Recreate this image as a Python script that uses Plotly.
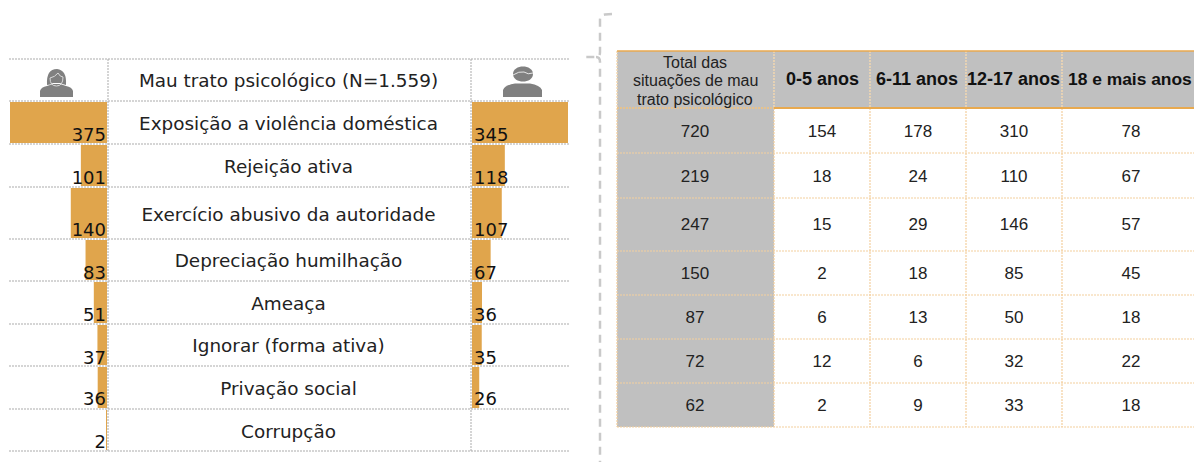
import plotly.graph_objects as go

# ---------- data ----------
categories = ["Exposição a violência doméstica", "Rejeição ativa", "Exercício abusivo da autoridade",
              "Depreciação humilhação", "Ameaça", "Ignorar (forma ativa)", "Privação social", "Corrupção"]
title_text = "Mau trato psicológico (N=1.559)"
female = [375, 101, 140, 83, 51, 37, 36, 2]
male = [345, 118, 107, 67, 36, 35, 26, None]
header_lines = ["Total das", "situações de mau", "trato psicológico"]
table_headers = ["0-5 anos", "6-11 anos", "12-17 anos", "18 e mais anos"]
total = [720, 219, 247, 150, 87, 72, 62]
age_0_5 = [154, 18, 15, 2, 6, 12, 2]
age_6_11 = [178, 24, 29, 18, 13, 6, 9]
age_12_17 = [310, 110, 146, 85, 50, 32, 33]
age_18 = [78, 67, 57, 45, 18, 22, 18]

# ---------- layout geometry (pixels) ----------
W, H = 1194, 462
row_edges = [59, 101, 144, 187, 239, 281, 324, 366, 409, 451]
label_y = [82, 125, 168, 216, 262, 305, 347, 390, 433]
value_y = [136, 179, 231, 274, 316, 359, 400, 443]
t_cols = [617, 774, 870, 966, 1062, 1194]
t_rows = [51, 108, 153, 198, 251, 295, 339, 383, 427]
t_text_y = [133, 178, 226, 275, 319, 363, 407]
BAR = "#E0A54C"
GREY = "#ABABAB"
ICON = "#808080"
CELL = "#C0C0C0"
ORANGE = "#E8A94F"
LIGHT = "#F3CF9E"
F1 = "DejaVu Sans"
F2 = "Liberation Sans"
PX = "x3"   # the full-figure pixel axis, drawn above the bars

fig = go.Figure()

bar_mid = [(row_edges[i + 1] + row_edges[i + 2]) / 2 for i in range(8)]
bar_h = [row_edges[i + 2] - row_edges[i + 1] - 2 for i in range(8)]
fig.add_trace(go.Bar(x=female, y=bar_mid, width=bar_h, orientation="h", xaxis="x", yaxis="y",
                     marker=dict(color=BAR, line_width=0), showlegend=False, hoverinfo="skip"))
fig.add_trace(go.Bar(x=male, y=bar_mid, width=bar_h, orientation="h", xaxis="x2", yaxis="y",
                     marker=dict(color=BAR, line_width=0), showlegend=False, hoverinfo="skip"))

fig.add_trace(go.Scatter(x=[288.5] * 9, y=label_y, text=[title_text] + categories, mode="text", xaxis=PX, yaxis="y",
                         textposition="middle center", textfont=dict(family=F1, size=18.4, color="#222222"),
                         showlegend=False, hoverinfo="skip", cliponaxis=False))
fig.add_trace(go.Scatter(x=[106] * 8, y=value_y, text=[str(v) for v in female], mode="text", xaxis=PX, yaxis="y",
                         textposition="middle left", textfont=dict(family=F1, size=18, color="#111111"),
                         showlegend=False, hoverinfo="skip", cliponaxis=False))
fig.add_trace(go.Scatter(x=[474] * 7, y=value_y[:7], text=[str(v) for v in male[:7]], mode="text", xaxis=PX, yaxis="y",
                         textposition="middle right", textfont=dict(family=F1, size=18, color="#111111"),
                         showlegend=False, hoverinfo="skip", cliponaxis=False))

centers = [(t_cols[i] + t_cols[i + 1]) / 2 for i in range(5)]
centers[0] = 695
centers[4] = 1131
for cx, col in zip(centers, [total, age_0_5, age_6_11, age_12_17, age_18]):
    fig.add_trace(go.Scatter(x=[cx] * 7, y=t_text_y, text=[str(v) for v in col], mode="text", xaxis=PX, yaxis="y",
                             textposition="middle center", textfont=dict(family=F2, size=17, color="#222222"),
                             showlegend=False, hoverinfo="skip", cliponaxis=False))

annos = []
for y, t in zip([62, 80.5, 99], header_lines):
    annos.append(dict(x=695, y=y, xref=PX, yref="y", text=t, showarrow=False,
                      font=dict(family=F2, size=16, color="#222222")))
for cx, h, s in zip([822, 917, 1013, 1130], table_headers, [18, 18, 18, 17.4]):
    annos.append(dict(x=cx, y=79, xref=PX, yref="y", text="<b>%s</b>" % h, showarrow=False,
                      font=dict(family=F2, size=s, color="#111111")))

shapes = []
DOT = "2px,1px"
def rect(x0, y0, x1, y1, fill, layer="below"):
    shapes.append(dict(type="rect", xref=PX, yref="y", x0=x0, y0=y0, x1=x1, y1=y1,
                       fillcolor=fill, line_width=0, layer=layer))
def line(x0, y0, x1, y1, color, w=1, dash=DOT, layer="below"):
    shapes.append(dict(type="line", xref=PX, yref="y", x0=x0, y0=y0, x1=x1, y1=y1,
                       line=dict(color=color, width=w, dash=dash), layer=layer))
def path(d, fill=None, color=None, w=0):
    s = dict(type="path", xref=PX, yref="y", path=d, layer="above",
             line=dict(width=w, color=color or "rgba(0,0,0,0)"))
    if fill:
        s["fillcolor"] = fill
    shapes.append(s)

# left grid
for y in row_edges:
    line(9, y, 569, y, GREY)
for x in (108, 471):
    line(x, row_edges[0], x, row_edges[-1], GREY)

# table
rect(t_cols[0], t_rows[0], t_cols[-1], t_rows[1], CELL)
rect(t_cols[0], t_rows[1], t_cols[1], t_rows[-1], CELL)
for y in t_rows[2:]:
    line(t_cols[0], y, t_cols[-1], y, LIGHT, 1.2)
for x in t_cols[:-1]:
    line(x, t_rows[1], x, t_rows[-1], LIGHT, 1.2)
    line(x, t_rows[0], x, t_rows[1], "#F5D9B0", 1.4)
line(t_cols[0], t_rows[0], t_cols[-1], t_rows[0], ORANGE, 1.5, "solid")
line(t_cols[1], t_rows[1], t_cols[-1], t_rows[1], ORANGE, 2, "solid")
line(t_cols[0], t_rows[1], t_cols[1], t_rows[1], "#F2C27E", 1.4)

# brace
shapes.append(dict(type="path", xref=PX, yref="y", layer="below",
                   path="M 612 14 L 605 14.5 Q 600 15 600 20 L 600 52 Q 600 57 596 57 L 586 57 M 596 57 Q 600 57 600 62 L 600 462",
                   line=dict(color="#C9C9C9", width=2.5, dash="8px,6px")))

# woman icon
path("M 40 97 L 40 91 Q 41 87 47 86 L 53 84 L 60 84 L 66 86 Q 72 87 73 91 L 73 97 Z", ICON)
path("M 47 85 Q 46 69 57 69 Q 67 70 66 85 Q 62 84 60 83 L 53 83 Q 50 85 47 85 Z", ICON)
path("M 50 78 Q 50 86 56.5 86 Q 63 86 63 77", None, "#D9D9D9", 1)
path("M 50 78 Q 55 77 58 73 Q 60 77 63 77", None, "#D9D9D9", 1)
# man icon
path("M 503 97 L 503 90 Q 505 85 515 83.5 L 530 83.5 Q 540 85 542 90 L 542 97 Z", ICON)
path("M 513 74 C 513 64 533 64 533 74 C 533 84 513 84 513 74 Z", ICON)
path("M 513 75 Q 519 71 524 72 Q 528 75 533 73", None, "#E6E6E6", 1)

no_axis = dict(visible=False, showgrid=False, zeroline=False, fixedrange=True)
fig.update_layout(
    width=W, height=H, autosize=False, margin=dict(l=0, r=0, t=0, b=0),
    paper_bgcolor="white", plot_bgcolor="rgba(0,0,0,0)", barmode="overlay",
    xaxis=dict(no_axis, range=[375, 0], domain=[10 / W, 107 / W], anchor="y"),
    yaxis=dict(no_axis, range=[H, 0], domain=[0, 1]),
    xaxis2=dict(no_axis, range=[0, 345], domain=[472 / W, 568 / W], anchor="y"),
    xaxis3=dict(no_axis, range=[0, W], domain=[0, 1], anchor="y"),
    shapes=shapes, annotations=annos,
)
fig.write_html("out.html", config=dict(displayModeBar=False),
               post_script="document.body.style.margin='0';document.body.style.overflow='hidden';")
